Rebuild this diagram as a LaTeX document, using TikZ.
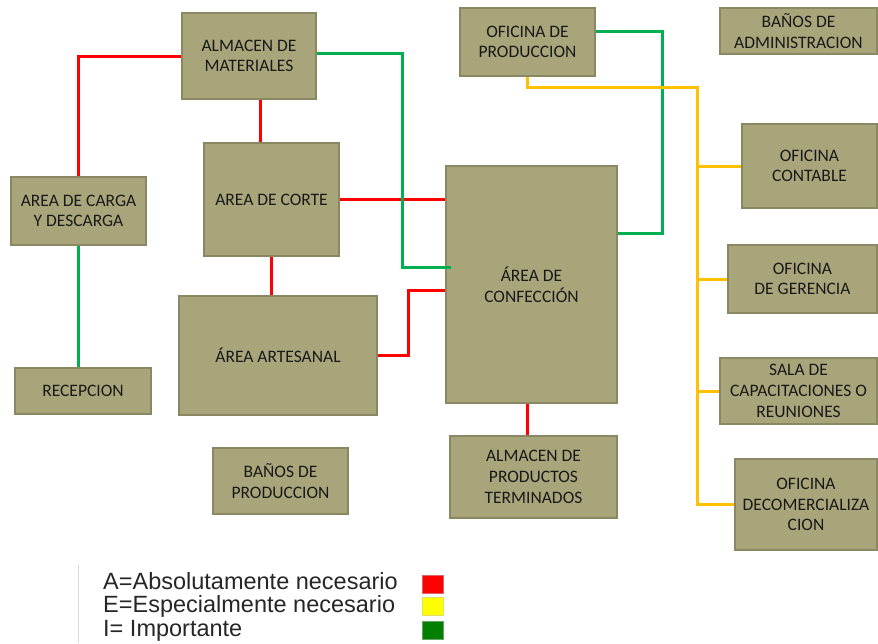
\documentclass[tikz,border=0pt]{standalone}
\usepackage{fontspec}
\setmainfont{Carlito}
\newfontfamily\legendfont{Liberation Sans}
\usetikzlibrary{calc}
\definecolor{boxfill}{HTML}{A9A57B}
\definecolor{boxline}{HTML}{8A8862}
\definecolor{relA}{HTML}{FF0000}
\definecolor{relE}{HTML}{FFC000}
\definecolor{relI}{HTML}{00B050}
\definecolor{keyA}{HTML}{FF0000}
\definecolor{keyE}{HTML}{FFFF00}
\definecolor{keyI}{HTML}{007F00}
\begin{document}
\begin{tikzpicture}[x=1pt,y=-1pt,
  area/.style={draw=boxline, fill=boxfill, line width=1.2pt, inner sep=2pt,
    align=center, text=black!90,
    font=\fontsize{17.5}{20.7}\selectfont},
  linkA/.style={draw=relA, line width=3pt},
  linkE/.style={draw=relE, line width=3pt},
  linkI/.style={draw=relI, line width=3pt},
  keytext/.style={anchor=base west, inner sep=0pt, text=black!85,
    font=\legendfont\fontsize{23.5}{23.5}\selectfont},
  keybox/.style={minimum width=21pt, minimum height=18pt, inner sep=0pt, draw=#1!80!black!60, line width=0.6pt, fill=#1}
]
\useasboundingbox (0,0) rectangle (878,643);

% areas: centre and size of each block
\node[area, minimum width=134pt, minimum height=86pt] (mat)   at (249,56)    {ALMACEN DE\\MATERIALES};
\node[area, minimum width=135pt, minimum height=113pt] (corte) at (271.5,199.5) {AREA DE CORTE};
\node[area, minimum width=135pt, minimum height=68pt] (carga) at (78.5,211)  {AREA DE CARGA\\Y DESCARGA};
\node[area, minimum width=198pt, minimum height=119pt] (art)  at (278,355.5) {ÁREA ARTESANAL};
\node[area, minimum width=136pt, minimum height=46pt] (rec)   at (83,391)    {RECEPCION};
\node[area, minimum width=135pt, minimum height=66pt] (bprod) at (280.5,481) {BAÑOS DE\\PRODUCCION};
\node[area, minimum width=171pt, minimum height=237pt] (conf) at (531.5,284.5) {ÁREA DE\\CONFECCIÓN};
\node[area, minimum width=135pt, minimum height=68pt] (ofp)   at (527.5,42)  {OFICINA DE\\PRODUCCION};
\node[area, minimum width=157pt, minimum height=46pt] (badm)  at (798.5,31)  {BAÑOS DE\\ADMINISTRACION};
\node[area, minimum width=135pt, minimum height=84pt] (cont)  at (809.5,166) {OFICINA\\CONTABLE};
\node[area, minimum width=149pt, minimum height=68pt] (ger)   at (802.5,279) {OFICINA\\DE GERENCIA};
\node[area, minimum width=157pt, minimum height=66pt] (sala)  at (798.5,391) {SALA DE\\CAPACITACIONES O\\REUNIONES};
\node[area, minimum width=142pt, minimum height=91pt] (com)   at (806,504.5) {OFICINA\\DECOMERCIALIZA\\CION};
\node[area, minimum width=167pt, minimum height=82pt] (pterm) at (533.5,477) {ALMACEN DE\\PRODUCTOS\\TERMINADOS};

% A: absolutely necessary
\draw[linkA] (mat.west) -| (carga.north);
\draw[linkA] ([xshift=11pt]mat.south) -- ([xshift=11pt]mat.south |- corte.north);
\draw[linkA] (corte.east) -- (corte.east -| conf.west);
\draw[linkA] (corte.south) -- (corte.south |- art.north);
\draw[linkA] (art.east) -- (408,355.5) |- ([yshift=-5.5pt]conf.west);
\draw[linkA] ([xshift=-4.5pt]conf.south) -- ([xshift=-4.5pt]conf.south |- pterm.north);

% I: important
\draw[linkI] ([yshift=3pt]mat.east) -- (402,53) |- ([yshift=17.5pt,xshift=6pt]conf.west);
\draw[linkI] ([yshift=11pt]ofp.east) -- (662,31) |- ([yshift=51.5pt]conf.east);
\draw[linkI] (carga.south) -- (carga.south |- rec.north);

% E: especially necessary (office trunk)
\coordinate (trunk) at (697,87);
\draw[linkE] (ofp.south) |- (trunk) |- (com.west);
\draw[linkE] (cont.west -| trunk) -- (cont.west);
\draw[linkE] (ger.west -| trunk) -- (ger.west);
\draw[linkE] (sala.west -| trunk) -- (sala.west);

% key
\coordinate (keytop) at (78,565);
\coordinate (keybot) at (78,643);
\draw[black!15, line width=0.8pt] (keytop) -- (keybot);
\node[keytext] (kA) at (103,589) {A=Absolutamente necesario};
\node[keytext] (kE) at (103,612.5) {E=Especialmente necesario};
\node[keytext] (kI) at (103,636) {I= Importante};
\node[keybox=keyA] (sA) at (432.5,584) {};
\node[keybox=keyE] (sE) at (432.5,606.5) {};
\node[keybox=keyI] (sI) at (432.5,630) {};
\end{tikzpicture}
\end{document}
